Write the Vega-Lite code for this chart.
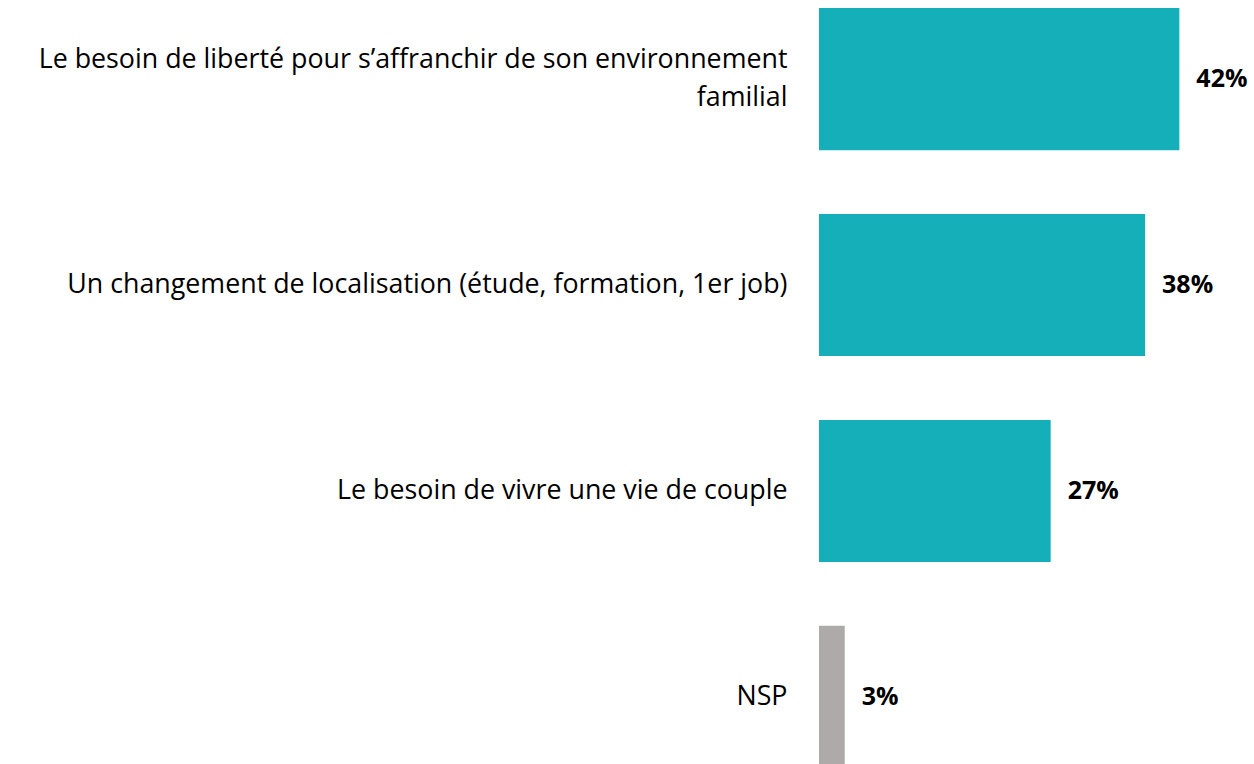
{
  "$schema": "https://vega.github.io/schema/vega-lite/v6.json",
  "autosize": {"type": "none"},
  "padding": {"left": 819, "top": 0, "right": 0, "bottom": 0},
  "width": 429,
  "height": 776,
  "background": "white",
  "config": {"view": {"stroke": null}, "font": "Open Sans"},
  "data": {
    "values": [
      {"label": "Le besoin de liberté pour s’affranchir de son environnement|familial", "value": 0.42, "groupe": "a"},
      {"label": "Un changement de localisation (étude, formation, 1er job)", "value": 0.38, "groupe": "a"},
      {"label": "Le besoin de vivre une vie de couple", "value": 0.27, "groupe": "a"},
      {"label": "NSP", "value": 0.03, "groupe": "b"}
    ]
  },
  "encoding": {
    "y": {
      "field": "label", "type": "nominal", "sort": null,
      "scale": {"paddingInner": 0.31, "paddingOuter": 0.039},
      "axis": {
        "title": null, "ticks": false, "domain": false,
        "labelPadding": 32, "labelFontSize": 26.8, "labelColor": "#000000",
        "labelFont": "Open Sans", "labelLimit": 900, "labelLineHeight": 38,
        "labelOffset": {"condition": {"test": "indexof(datum.label, '|') >= 0", "value": -19}, "value": 0},
        "labelExpr": "split(datum.label, '|')"
      }
    },
    "x": {
      "field": "value", "type": "quantitative",
      "scale": {"domain": [0, 0.5]},
      "axis": null
    }
  },
  "layer": [
    {
      "mark": {"type": "bar"},
      "encoding": {
        "color": {
          "field": "groupe", "type": "nominal",
          "scale": {"domain": ["a", "b"], "range": ["#14AFB8", "#ADAAA9"]},
          "legend": null
        }
      }
    },
    {
      "mark": {"type": "text", "align": "left", "dx": 17, "fontSize": 25, "fontWeight": "bold", "font": "Open Sans", "color": "#000000"},
      "encoding": {
        "text": {"field": "value", "type": "quantitative", "format": ".0%"}
      }
    }
  ]
}
